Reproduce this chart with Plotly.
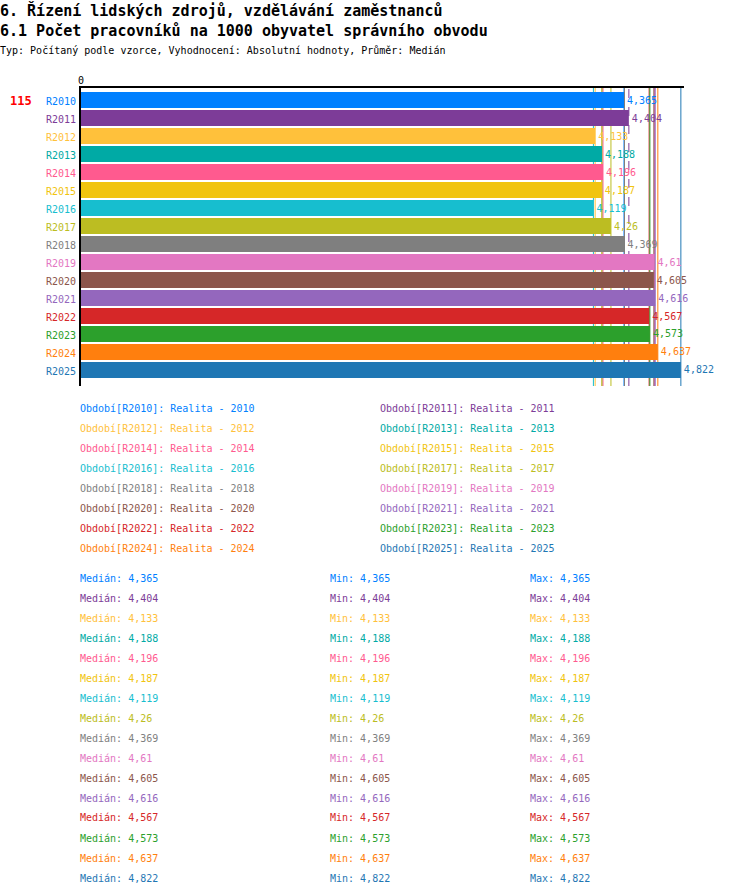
import plotly.graph_objects as go

# data
periods = ["R2010", "R2011", "R2012", "R2013", "R2014", "R2015", "R2016", "R2017",
           "R2018", "R2019", "R2020", "R2021", "R2022", "R2023", "R2024", "R2025"]
values = [4.365, 4.404, 4.133, 4.188, 4.196, 4.187, 4.119, 4.26,
          4.369, 4.61, 4.605, 4.616, 4.567, 4.573, 4.637, 4.822]
medians = [4.365, 4.404, 4.133, 4.188, 4.196, 4.187, 4.119, 4.26,
           4.369, 4.61, 4.605, 4.616, 4.567, 4.573, 4.637, 4.822]
mins = list(medians)
maxs = list(medians)
colors = ["#0080ff", "#7d3c98", "#ffc13b", "#00aaa5", "#ff5a8f", "#f1c40f",
          "#17becf", "#bcbd22", "#7f7f7f", "#e377c2", "#8c564b", "#9467bd",
          "#d62728", "#2ca02c", "#ff7f0e", "#1f77b4"]
code_label = "115"

TITLE = "6. Řízení lidských zdrojů, vzdělávání zaměstnanců"
SUBTITLE = "6.1 Počet pracovníků na 1000 obyvatel správního obvodu"
INFO = "Typ: Počítaný podle vzorce, Vyhodnocení: Absolutní hodnoty, Průměr: Medián"

FONT = "DejaVu Sans Mono"
W, H = 750, 896
L, R, T, B = 81, 684, 88, 386  # plot area in pixels


def fmt(v):
    return f"{v:g}".replace(".", ",")


def px(x):
    return (x - 2 - L) / (R - L)


def py(y):
    return (B - y) / (B - T)


fig = go.Figure()
fig.add_trace(go.Bar(
    y=periods,
    x=values,
    orientation="h",
    marker=dict(color=colors, line=dict(width=0)),
    text=[fmt(v) for v in values],
    textposition="outside",
    textfont=dict(family=FONT, size=10, color=colors),
    constraintext="none",
    cliponaxis=False,
    width=0.89,
    hoverinfo="skip",
))

shapes = []
for i, v in enumerate(values):
    shapes.append(dict(
        type="line", xref="x", yref="paper", x0=v, x1=v, y0=0, y1=1,
        line=dict(color=colors[i], width=1, dash="dash" if periods[i] == "R2011" else "solid"),
        layer="below",
    ))

ann = []
# header texts
ann.append(dict(text=f"<b>{TITLE}</b>", x=px(0), y=py(10), font=dict(size=15, color="black")))
ann.append(dict(text=f"<b>{SUBTITLE}</b>", x=px(0), y=py(31), font=dict(size=15, color="black")))
ann.append(dict(text=INFO, x=px(0), y=py(50), font=dict(size=10, color="black")))
ann.append(dict(text=f"<b>{code_label}</b>", x=px(10), y=py(101), font=dict(size=12, color="red")))

# category labels
for i, p in enumerate(periods):
    ann.append(dict(text=p, x=px(80), xanchor="right", y=py(101 + 18 * i),
                    font=dict(size=10, color=colors[i])))

# legend, two columns
for i, p in enumerate(periods):
    col, row = i % 2, i // 2
    ann.append(dict(text=f"Období[{p}]: Realita - {p[1:]}",
                    x=px(80 if col == 0 else 380), y=py(408 + 20 * row),
                    font=dict(size=10, color=colors[i])))

# statistics
for i in range(len(periods)):
    yy = py(578 + 20 * i)
    ann.append(dict(text=f"Medián: {fmt(medians[i])}", x=px(80), y=yy,
                    font=dict(size=10, color=colors[i])))
    ann.append(dict(text=f"Min: {fmt(mins[i])}", x=px(330), y=yy,
                    font=dict(size=10, color=colors[i])))
    ann.append(dict(text=f"Max: {fmt(maxs[i])}", x=px(530), y=yy,
                    font=dict(size=10, color=colors[i])))

for a in ann:
    a.setdefault("xanchor", "left")
    a.update(xref="paper", yref="paper", yanchor="middle", showarrow=False)
    a["font"]["family"] = FONT

fig.update_layout(
    width=W, height=H,
    margin=dict(l=L, r=W - R, t=T, b=H - B, pad=0),
    paper_bgcolor="white",
    plot_bgcolor="white",
    showlegend=False,
    font=dict(family=FONT, size=10, color="black"),
    shapes=shapes,
    annotations=ann,
    xaxis=dict(
        range=[0, (R - L) / 124.4],
        side="top",
        showgrid=False,
        zeroline=False,
        showline=True, linecolor="black", linewidth=1.5,
        tickvals=[0], ticktext=["0"], ticks="",
        ticklabelstandoff=-2,
        tickfont=dict(size=10, color="black"),
        fixedrange=True,
    ),
    yaxis=dict(
        type="category",
        categoryorder="array", categoryarray=periods,
        range=[15.89, -0.67],
        showgrid=False,
        zeroline=False,
        showline=True, linecolor="black", linewidth=2,
        showticklabels=False, ticks="",
        fixedrange=True,
    ),
)

fig.write_html("out.html", config={"displayModeBar": False},
               post_script="document.body.style.margin='0';")
